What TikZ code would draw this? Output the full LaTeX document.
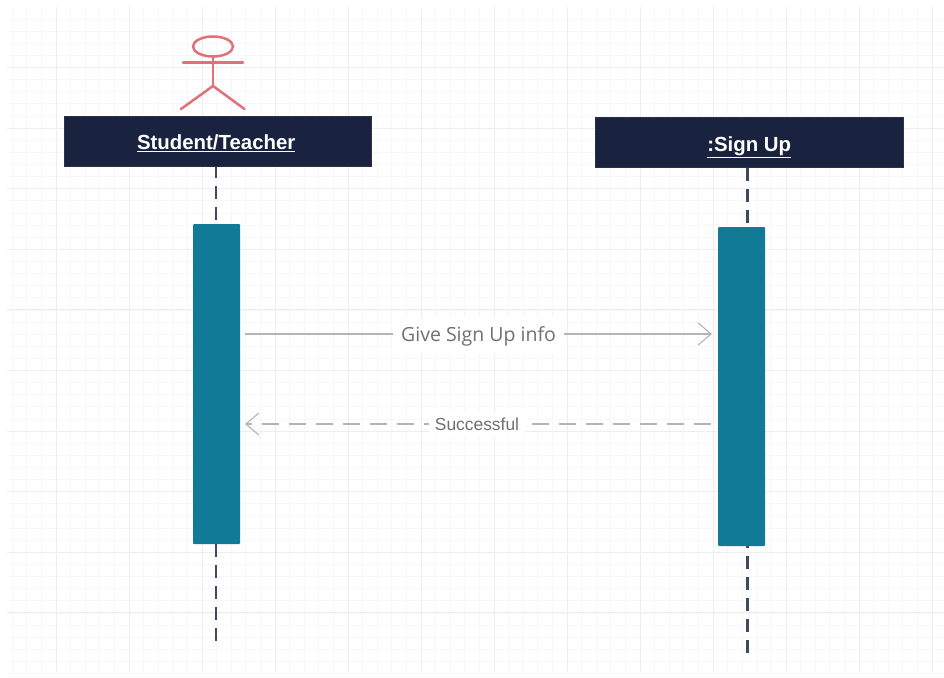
\documentclass[tikz,border=0pt]{standalone}
\usepackage{fontspec}
\setmainfont{Liberation Sans}
\newfontfamily\msgfont{Open Sans}
\usetikzlibrary{arrows.meta,shapes.geometric}
\definecolor{navy}{HTML}{19233F}
\definecolor{teal2}{HTML}{107A97}
\definecolor{actorred}{HTML}{E0707A}
\definecolor{msggray}{HTML}{B4B4B4}
\definecolor{msgtext}{HTML}{707070}
\definecolor{lifeln}{HTML}{3E4A5E}
\definecolor{gridminor}{HTML}{F7F7F7}
\definecolor{gridmajor}{HTML}{EEEEEE}
\tikzset{
  x=1pt,y=-1pt,
  headbox/.style={draw=navy!85!gray,line width=0.5pt,fill=navy,minimum width=307.5pt,minimum height=50pt,inner sep=0pt,text=white,font=\fontsize{20.4}{22}\selectfont\bfseries},
  activation/.style={fill=teal2,minimum width=47pt,inner sep=0pt,rounded corners=1pt},
  lifeline/.style={draw=lifeln,line width=2.6pt,dash pattern=on 13pt off 8pt},
  actorline/.style={draw=actorred,line width=2.5pt,line cap=round},
  msg/.style={draw=msggray,line width=1.1pt,-{Straight Barb[length=13pt,width=22pt,line width=1.1pt]}},
  msglabel/.style={fill=white,text=msgtext},
}
\begin{document}
\begin{tikzpicture}
\useasboundingbox (0,0) rectangle (944,677);
% grid
\foreach \k in {-3,...,61}{
  \pgfmathsetmacro{\gx}{56+14.6*\k}
  \draw[gridminor,line width=0.8pt] (\gx,7) -- (\gx,672);
}
\foreach \k in {-4,...,50}{
  \pgfmathsetmacro{\gy}{67.5+12.12*\k}
  \ifdim \gy pt>6pt \draw[gridminor,line width=0.8pt] (7,\gy) -- (944,\gy);\fi
}
\foreach \k in {0,...,12}{
  \pgfmathsetmacro{\gx}{56+73*\k}
  \draw[gridmajor,line width=0.9pt] (\gx,7) -- (\gx,672);
}
\foreach \k in {0,...,9}{
  \pgfmathsetmacro{\gy}{67.5+60.6*\k}
  \draw[gridmajor,line width=0.9pt] (7,\gy) -- (944,\gy);
}
% actor
\node[ellipse,draw=actorred,line width=2.5pt,minimum width=40pt,minimum height=20pt,inner sep=0pt] (head) at (213,46.5) {};
\coordinate (hip) at (213,86);
\coordinate (armL) at (183,62.5);
\coordinate (armR) at (243,62.5);
\coordinate (footL) at (181,109);
\coordinate (footR) at (244.5,109);
\draw[actorline] (head.south) -- (hip);
\draw[actorline] (armL) -- (armR);
\draw[actorline] (footL) -- (hip) -- (footR);
% lifeline ends
\coordinate (endA) at (216,642);
\coordinate (endB) at (747.5,653);
% headers
\node[headbox] (boxA) at (217.7,141.5) {\hspace*{-3pt}\smash{\raisebox{-8pt}{\underline{Student/Teacher}}}};
\node[headbox] (boxB) at (749.2,142.5) {\smash{\raisebox{-8.5pt}{\underline{:Sign Up}}}};
% activations
\node[activation,minimum height=320pt] (actA) at (216.5,384) {};
\node[activation,minimum height=319pt] (actB) at (741.5,386.5) {};
% lifelines
\draw[lifeline,shorten <=4pt] (endA |- actA.north) -- (endA |- boxA.south);
\draw[lifeline,shorten <=4pt] (endB |- actB.north) -- (endB |- boxB.south);
\draw[lifeline] (endA |- actA.south) -- (endA);
\draw[lifeline] (endB) -- (endB |- actB.south);
% messages
\coordinate (m1a) at (245,334);
\coordinate (m1b) at (712,334);
\coordinate (m2a) at (711,424);
\coordinate (m2b) at (245,424);
\draw[msg] (m1a) -- (m1b);
\draw[msg,dash pattern=on 17pt off 10pt] (m2a) -- (m2b);
\node[msglabel,inner sep=8pt,font=\msgfont\fontsize{19.5}{21}\selectfont] (l1) at (478.5,336) {Give Sign Up info};
\node[msglabel,inner sep=6pt,font=\fontsize{17.4}{19}\selectfont] (l2) at (477,424.5) {Successful};
\end{tikzpicture}
\end{document}
